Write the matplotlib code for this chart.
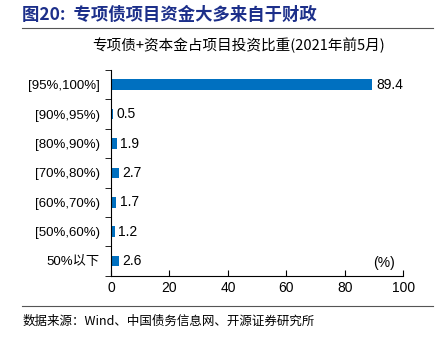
import matplotlib.pyplot as plt
from matplotlib.lines import Line2D

plt.rcParams['font.family'] = ['Noto Sans CJK SC', 'DejaVu Sans']
latin = ['Liberation Sans', 'Noto Sans CJK SC']

categories = ['[95%,100%]', '[90%,95%)', '[80%,90%)', '[70%,80%)',
              '[60%,70%)', '[50%,60%)', '50%以下']
values = [89.4, 0.5, 1.9, 2.7, 1.7, 1.2, 2.6]
xticks = [0, 20, 40, 60, 80, 100]

fig = plt.figure(figsize=(4.46, 3.37), dpi=100)
ax = fig.add_axes([0.249, 0.182, 0.655, 0.610])

pos = list(range(len(categories)))[::-1]
ax.barh(pos, values, height=0.36, color='#0070C0')
for p, v in zip(pos, values):
    ax.text(v + 1.3, p, f'{v}', va='center', ha='left', fontsize=10,
            family=latin)

ax.set_xlim(0, 100)
ax.set_ylim(-0.5, len(categories) - 0.5)
ax.set_xticks(xticks)
ax.set_xticklabels([str(t) for t in xticks], fontsize=10, family=latin)
ax.set_yticks(pos)
ax.set_yticklabels(categories, fontsize=9.5, family=latin)
ax.set_yticks([i - 0.5 for i in range(len(categories) + 1)], minor=True)
ax.tick_params(axis='y', which='major', length=0, pad=8)
ax.tick_params(axis='y', which='minor', length=4, direction='out')
ax.tick_params(axis='x', length=4, direction='in')
for s in ['top', 'right']:
    ax.spines[s].set_visible(False)
ax.text(97, -0.3, '(%)', ha='right', va='bottom', fontsize=10, family=latin)

# 标题、副标题与数据来源
fig.text(0.05, 0.957, '图20:  专项债项目资金大多来自于财政', fontsize=12.5,
         fontweight='bold', color='#1C2F8A', va='center')
fig.add_artist(Line2D([0.05, 0.97], [0.916, 0.916], color='#555555', lw=0.8))
fig.text(0.535, 0.866, '专项债+资本金占项目投资比重(2021年前5月)', fontsize=10.5,
         ha='center', va='center')
fig.add_artist(Line2D([0.05, 0.97], [0.093, 0.093], color='#555555', lw=0.8))
fig.text(0.05, 0.048, '数据来源：Wind、中国债务信息网、开源证券研究所', fontsize=9,
         va='center')

fig.savefig('out.png', dpi=100)
